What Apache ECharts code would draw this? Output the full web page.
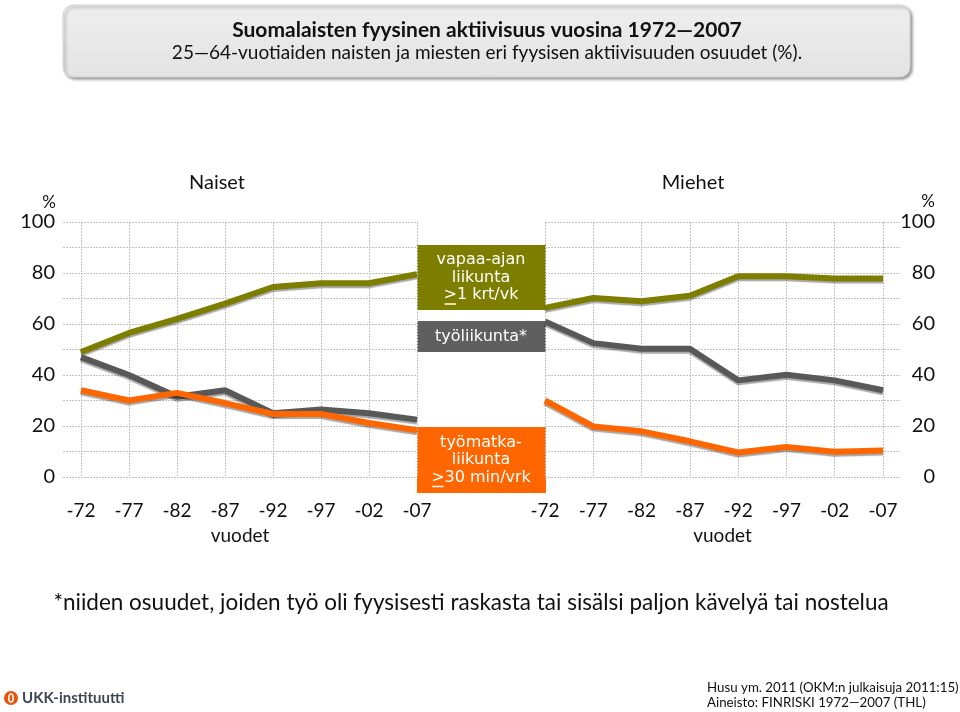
<!DOCTYPE html>
<html>
<head>
<meta charset="utf-8">
<title>Suomalaisten fyysinen aktiivisuus</title>
<script src="https://cdn.jsdelivr.net/npm/echarts@6/dist/echarts.min.js"></script>
<style>
  html, body { margin: 0; padding: 0; background: #fff; }
  #chart { width: 960px; height: 712px; }
</style>
</head>
<body>
<div id="chart"></div>
<script>
// vuodet (x-akseli)
const years = [1972, 1977, 1982, 1987, 1992, 1997, 2002, 2007]
const yTicks = [0, 20, 40, 60, 80, 100]

// Naiset
const naisetVapaa = [49, 56.5, 62, 68, 74.5, 76, 76, 79.5]
const naisetTyo = [47, 40, 31.5, 34, 25, 26.5, 25, 22.5]
const naisetMatka = [34, 30, 33, 29, 24.7, 24.7, 21.2, 18.3]

// Miehet
const miehetVapaa = [66.3, 70.2, 68.9, 71.1, 78.7, 78.7, 77.8, 77.8]
const miehetTyo = [61, 52.5, 50.3, 50.3, 37.9, 40.1, 37.9, 34]
const miehetMatka = [30, 19.8, 17.9, 14, 9.6, 11.8, 9.9, 10.4]

const OLIVE = '#7d7d00'
const GRAY = '#585858'
const ORANGE = '#ff6600'
const FONT = 'Lato, "Open Sans", sans-serif'
const BOXFONT = '"DejaVu Sans", Verdana, sans-serif'

const pairs = vals => years.map((y, i) => [y, vals[i]])

function measure(text, font) {
  const ctx = document.createElement('canvas').getContext('2d')
  ctx.font = font
  return ctx.measureText(text).width
}

const gridLine = {
  show: true,
  lineStyle: { color: '#c4c4c4', type: [2, 1], width: 1 }
}

function xAxisCfg(gridIndex, min, max) {
  return {
    type: 'value',
    gridIndex,
    min,
    max,
    axisLine: { show: false },
    axisTick: { show: false, customValues: years },
    axisLabel: {
      customValues: years,
      margin: 24,
      color: '#111',
      fontSize: 19,
      fontFamily: FONT,
      formatter: v => '-' + String(v).slice(2)
    },
    splitLine: gridLine,
    name: 'vuodet',
    nameLocation: 'middle',
    nameGap: 49,
    nameTextStyle: { color: '#111', fontSize: 19, fontFamily: FONT }
  }
}

function yAxisCfg(gridIndex, position) {
  return {
    type: 'value',
    gridIndex,
    position,
    min: 0,
    max: 100,
    interval: 10,
    axisLine: { show: false },
    axisTick: { show: false },
    axisLabel: {
      color: '#111',
      fontSize: 20,
      fontFamily: FONT,
      align: 'right',
      margin: position === 'left' ? 8 : 35,
      formatter: v => (yTicks.indexOf(v) > -1 ? String(v) : '')
    },
    splitLine: gridLine
  }
}

function lineSeries(name, idx, vals, color) {
  return {
    name,
    type: 'line',
    xAxisIndex: idx,
    yAxisIndex: idx,
    data: pairs(vals),
    symbol: 'none',
    silent: true,
    z: color === ORANGE ? 4 : 3,
    lineStyle: {
      color,
      width: 6,
      shadowColor: 'rgba(0,0,0,0.35)',
      shadowBlur: 1,
      shadowOffsetY: 2
    }
  }
}

// selitelaatikko keskellä
function labelBox(top, height, color, lines, underline) {
  const lineH = 17.5
  const font = '16px ' + BOXFONT
  const startY = top + height / 2 - (lines.length - 1) * lineH / 2
  const children = [{
    type: 'rect',
    shape: { x: 417, y: top, width: 129, height },
    style: { fill: color }
  }]
  lines.forEach((t, i) => {
    children.push({
      type: 'text',
      x: 481,
      y: startY + i * lineH,
      style: { text: t, font, fill: '#fff', align: 'center', verticalAlign: 'middle' }
    })
  })
  if (underline) {
    const last = lines[lines.length - 1]
    const w = measure(last, font)
    const gw = measure('>', font)
    const x0 = 481 - w / 2
    const yy = startY + (lines.length - 1) * lineH + 9
    children.push({
      type: 'line',
      shape: { x1: x0 + 1, y1: yy, x2: x0 + gw - 1, y2: yy },
      style: { stroke: '#fff', lineWidth: 1.5 }
    })
  }
  return { type: 'group', children }
}

const chart = echarts.init(document.getElementById('chart'))

const option = {
  animation: false,
  grid: [
    { left: 63, top: 222, width: 354, height: 255 },
    { left: 545, top: 222, width: 355, height: 255 }
  ],
  xAxis: [
    xAxisCfg(0, 1970.125, 2007),
    xAxisCfg(1, 1972, 2008.76)
  ],
  yAxis: [
    yAxisCfg(0, 'left'),
    yAxisCfg(1, 'right')
  ],
  series: [
    lineSeries('vapaa-ajan liikunta', 0, naisetVapaa, OLIVE),
    lineSeries('työliikunta', 0, naisetTyo, GRAY),
    lineSeries('työmatkaliikunta', 0, naisetMatka, ORANGE),
    lineSeries('vapaa-ajan liikunta', 1, miehetVapaa, OLIVE),
    lineSeries('työliikunta', 1, miehetTyo, GRAY),
    lineSeries('työmatkaliikunta', 1, miehetMatka, ORANGE)
  ],
  graphic: [
    {
      type: 'rect',
      shape: { x: 63, y: 5, width: 847, height: 72, r: 10 },
      style: {
        fill: {
          type: 'linear', x: 0, y: 0, x2: 0, y2: 1,
          colorStops: [{ offset: 0, color: '#eeeeee' }, { offset: 1, color: '#e3e3e3' }]
        },
        stroke: '#d6d6d6',
        shadowColor: 'rgba(0,0,0,0.4)',
        shadowBlur: 3,
        shadowOffsetX: 2,
        shadowOffsetY: 2
      }
    },
    {
      type: 'text',
      x: 487, y: 30,
      style: {
        text: 'Suomalaisten fyysinen aktiivisuus vuosina 1972—2007',
        font: 'bold 21px ' + FONT, fill: '#111', align: 'center', verticalAlign: 'middle'
      }
    },
    {
      type: 'text',
      x: 487, y: 53,
      style: {
        text: '25—64-vuotiaiden naisten ja miesten eri fyysisen aktiivisuuden osuudet (%).',
        font: '19px ' + FONT, fill: '#111', align: 'center', verticalAlign: 'middle'
      }
    },
    {
      type: 'text', x: 217, y: 183,
      style: { text: 'Naiset', font: '20px ' + FONT, fill: '#111', align: 'center', verticalAlign: 'middle' }
    },
    {
      type: 'text', x: 693, y: 183,
      style: { text: 'Miehet', font: '20px ' + FONT, fill: '#111', align: 'center', verticalAlign: 'middle' }
    },
    {
      type: 'text', x: 49, y: 203,
      style: { text: '%', font: '17px ' + FONT, fill: '#111', align: 'center', verticalAlign: 'middle' }
    },
    {
      type: 'text', x: 928, y: 202,
      style: { text: '%', font: '17px ' + FONT, fill: '#111', align: 'center', verticalAlign: 'middle' }
    },
    labelBox(245, 65, OLIVE, ['vapaa-ajan', 'liikunta', '>1 krt/vk'], true),
    labelBox(321, 31, '#5f5f5f', ['työliikunta*'], false),
    labelBox(427, 66, ORANGE, ['työmatka-', 'liikunta', '>30 min/vrk'], true),
    {
      type: 'text', x: 471, y: 603,
      style: {
        text: '*niiden osuudet, joiden työ oli fyysisesti raskasta tai sisälsi paljon kävelyä tai nostelua',
        font: '22.5px ' + FONT, fill: '#111', align: 'center', verticalAlign: 'middle'
      }
    },
    {
      type: 'circle', shape: { cx: 11, cy: 698, r: 7 },
      style: { fill: '#e8520f' }
    },
    {
      type: 'ellipse', shape: { cx: 11, cy: 698, rx: 2.2, ry: 4 },
      style: { fill: 'none', stroke: '#fff', lineWidth: 1.6 }
    },
    {
      type: 'text', x: 22, y: 698,
      style: { text: 'UKK-instituutti', font: 'bold 15px ' + FONT, fill: '#3d4752', verticalAlign: 'middle' }
    },
    {
      type: 'text', x: 707, y: 688,
      style: { text: 'Husu ym. 2011 (OKM:n julkaisuja 2011:15)', font: '13.3px ' + FONT, fill: '#111', verticalAlign: 'middle' }
    },
    {
      type: 'text', x: 707, y: 703,
      style: { text: 'Aineisto: FINRISKI 1972—2007 (THL)', font: '13.3px ' + FONT, fill: '#111', verticalAlign: 'middle' }
    }
  ]
}

chart.setOption(option)
</script>
</body>
</html>
